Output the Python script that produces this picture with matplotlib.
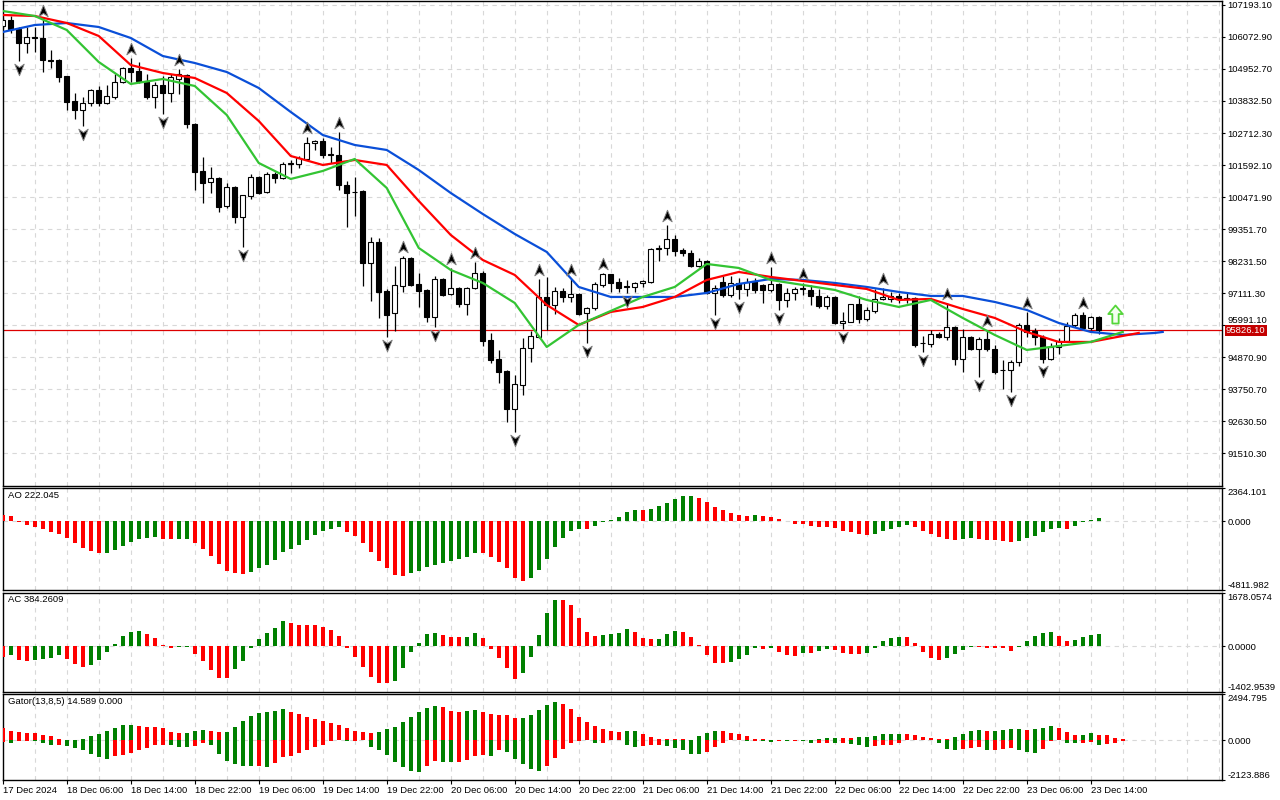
import matplotlib
matplotlib.use("Agg")
import matplotlib.pyplot as plt
from matplotlib.path import Path
from matplotlib.transforms import offset_copy, blended_transform_factory
import numpy as np

plt.rcParams["font.family"] = ["Liberation Sans", "DejaVu Sans"]

# hourly candles, 17 Dec 22:00 .. 23 Dec 15:00
opens = [106458, 106668, 106353, 105863, 106073, 106038, 105268, 105268, 104708, 103833,
         103518, 103763, 104218, 103763, 103973, 104498, 104988, 104883, 104533, 103973,
         104393, 104113, 104603, 104743, 103028, 101383, 100998, 101138, 100158, 100823,
         99773, 100508, 101173, 100648, 101278, 101138, 101628, 101628, 101803, 102363,
         102433, 101978, 101943, 100893, 100648, 100683, 98163, 98898, 97183, 96413,
         97358, 98338, 97428, 97218, 96273, 97603, 97078, 97288, 96728, 97288,
         97813, 95468, 94803, 94383, 93053, 93893, 95188, 95573, 96973, 96693,
         97183, 96973, 97078, 96413, 96588, 97393, 97778, 97498, 97358, 97323,
         97463, 97498, 98653, 98688, 99003, 98618, 98513, 98058, 98233, 97113,
         97498, 97043, 97463, 97253, 97533, 97393, 97218, 97428, 96868, 97113,
         97253, 97218, 97008, 96658, 96973, 96063, 96098, 96728, 96203, 96483,
         96903, 96903, 97008, 96903, 96938, 95363, 95328, 95678, 95573, 95923,
         94803, 95573, 95153, 95503, 95153, 94418, 94418, 94698, 95993, 95783,
         95573, 94803, 95223, 95433, 95993, 96343, 95888, 96273]
highs = [106738, 106808, 106423, 106423, 106423, 106668, 105618, 105303, 104708, 104113,
         103973, 104253, 104358, 104393, 104778, 105023, 105338, 105198, 104778, 104498,
         104708, 104778, 104953, 104778, 103063, 101873, 101523, 101173, 100963, 100858,
         100543, 101278, 101208, 101348, 101348, 101698, 101768, 101908, 102573, 102468,
         102538, 102223, 102748, 101033, 101173, 100718, 99073, 99038, 97253, 98058,
         98408, 98373, 97813, 97253, 97708, 97638, 97988, 97323, 97323, 98198,
         97883, 95713, 95118, 94418, 94243, 95538, 95783, 97603, 97673, 97323,
         97288, 97603, 97113, 96623, 97498, 97813, 97780, 97638, 97568, 97498,
         97568, 98688, 98793, 99493, 99143, 98688, 98618, 98338, 98268, 97393,
         97708, 97708, 97638, 97638, 97638, 97428, 98023, 97463, 97288, 97323,
         97463, 97393, 97253, 97043, 97008, 96448, 96740, 97008, 96623, 97253,
         97288, 97148, 97113, 97113, 96973, 95608, 95818, 95748, 96763, 95958,
         95853, 95608, 95573, 95818, 95293, 94768, 94768, 96063, 96448, 95888,
         95643, 95363, 95538, 96098, 96413, 96448, 96308, 96308]
lows = [106388, 106213, 105233, 105513, 105548, 104848, 104988, 104498, 103518, 103203,
        102958, 103658, 103658, 103728, 103903, 104463, 104498, 104463, 103903, 103588,
        103378, 103798, 104078, 102888, 100718, 100263, 100613, 99948, 100088, 99563,
        98723, 100403, 100578, 100613, 100963, 101103, 101313, 101488, 101768, 102118,
        101838, 101663, 100718, 99423, 99808, 97358, 96833, 96238, 95573, 95783,
        97148, 97358, 96623, 96098, 95923, 97008, 97043, 96623, 96343, 97253,
        95258, 94663, 93963, 92598, 92248, 93543, 94698, 95538, 95818, 96378,
        96798, 96798, 96343, 95363, 96518, 97323, 97148, 97130, 97113, 97148,
        97323, 97463, 98233, 98443, 98408, 98408, 98023, 98023, 97078, 96343,
        96973, 96973, 96903, 97008, 97113, 96763, 97148, 96518, 96623, 96868,
        97043, 96693, 96588, 96553, 96028, 95853, 96080, 96063, 96133, 96413,
        96868, 96798, 96763, 96763, 95223, 95048, 95223, 95538, 95468, 94593,
        94348, 95118, 94173, 95083, 94278, 93753, 93648, 94558, 95573, 95293,
        94663, 94768, 94978, 95398, 95923, 95818, 95818, 95678]
closes = [106668, 106353, 105863, 106073, 106055, 105268, 105250, 104673, 103798, 103518,
          103763, 104218, 103763, 104008, 104498, 104988, 104848, 104533, 103973, 104393,
          104113, 104673, 104778, 103028, 101348, 100963, 101138, 100123, 100823, 99773,
          100543, 101173, 100613, 101278, 101138, 101628, 101663, 101838, 102363, 102433,
          101943, 101943, 100893, 100613, 100630, 98163, 98898, 97148, 96343, 97393,
          98338, 97393, 97183, 96273, 97603, 97043, 97288, 96728, 97288, 97813,
          95433, 94768, 94348, 93053, 93928, 95188, 95608, 96973, 96693, 97183,
          96973, 97078, 96378, 96588, 97428, 97778, 97463, 97288, 97323, 97463,
          97533, 98653, 98688, 99003, 98583, 98513, 98058, 98233, 97113, 97288,
          97043, 97463, 97253, 97498, 97218, 97218, 97428, 96868, 97113, 97253,
          97288, 97008, 96658, 96973, 96063, 96133, 96728, 96203, 96518, 96903,
          96973, 97008, 96903, 96920, 95293, 95350, 95678, 95573, 95923, 94803,
          95573, 95153, 95503, 95153, 94348, 94400, 94698, 95993, 95748, 95573,
          94803, 95223, 95433, 95958, 96343, 95888, 96273, 95826.10]

# Alligator lines, read every 4 bars (already shifted forward)
jaw_bars = list(range(0, 145, 4)) + [145]
jaw = [106248, 106493, 106563, 106423, 106038, 105408, 105163, 104848, 104288, 103448,
       102643, 102293, 102118, 101418, 100613, 99878, 99178, 98548, 97323, 96973,
       96973, 96973, 97113, 97428, 97603, 97568, 97463, 97323, 97148, 97008,
       97008, 96798, 96518, 96063, 95748, 95643, 95713, 95748]
teeth_bars = list(range(0, 141, 4)) + [142]
teeth = [106843, 106808, 106563, 106108, 105093, 104813, 104638, 104113, 103133, 101908,
         101593, 101768, 101593, 100333, 99143, 98268, 97743, 96693, 95993, 96448,
         96623, 96973, 97568, 97848, 97673, 97533, 97393, 97253, 96868, 96903,
         96553, 96238, 95748, 95398, 95398, 95608, 95713]
lips_bars = list(range(0, 141, 4))
lips = [106983, 106808, 106318, 105198, 104428, 104603, 104358, 103343, 101663, 101103,
        101383, 101803, 100788, 98688, 97918, 97463, 96763, 95223, 95993, 96483,
        96973, 97323, 98128, 97988, 97568, 97393, 97218, 96868, 96623, 96868,
        96238, 95643, 95118, 95258, 95398, 95748]

fractal_up = [5, 16, 22, 38, 42, 50, 56, 59, 67, 71, 75, 83, 96, 100, 110, 118, 123, 128, 135]
fractal_down = [2, 10, 20, 30, 48, 54, 64, 73, 78, 89, 92, 97, 105, 115, 122, 126, 130]
signal_bar = 139
signal_price = 96378

ao = [422, 350, -18, -233, -395, -538, -745, -888, -1166, -1516,
      -1866, -2054, -2216, -2198, -2009, -1704, -1471, -1238, -1166, -1094,
      -1238, -1247, -1229, -1220, -1516, -1938, -2422, -2987, -3453, -3615,
      -3687, -3525, -3265, -3032, -2682, -2144, -1938, -1633, -1283, -933,
      -655, -511, -422, -745, -1005, -1516, -2144, -2754, -3265, -3732,
      -3803, -3615, -3453, -3193, -3032, -2915, -2799, -2610, -2494, -2216,
      -2225, -2494, -2843, -3265, -3965, -4153, -3965, -3382, -2637, -1794,
      -1166, -655, -538, -547, -305, -18, 72, 278, 655, 771,
      762, 861, 1076, 1283, 1561, 1794, 1803, 1633, 1354, 1005,
      789, 583, 440, 377, 440, 377, 305, 161, 45, -161,
      -170, -305, -395, -404, -466, -655, -745, -888, -933, -861,
      -655, -511, -377, -278, -377, -655, -861, -1094, -1211, -1283,
      -1211, -1166, -1220, -1283, -1292, -1354, -1471, -1354, -1166, -1005,
      -727, -511, -466, -511, -350, -72, 90, 222.045]
ac = [-331, -276, -432, -469, -414, -386, -349, -276, -386, -542,
      -625, -570, -414, -175, 83, 322, 450, 478, 395, 257,
      41, -41, -28, -9, -230, -469, -726, -974, -983, -698,
      -460, -64, 239, 423, 579, 790, 726, 671, 666, 662,
      597, 515, 322, -46, -331, -643, -956, -1140, -1144, -1075,
      -671, -175, 101, 395, 423, 368, 294, 289, 294, 423,
      257, -74, -349, -671, -1011, -818, -331, 368, 1038, 1452,
      1443, 1296, 882, 450, 322, 368, 395, 423, 542, 450,
      257, 230, 239, 386, 478, 450, 294, 41, -257, -505,
      -510, -478, -386, -257, -46, -74, -37, -165, -257, -294,
      -193, -198, -138, -83, -101, -193, -230, -234, -193, -37,
      165, 257, 294, 289, 101, -165, -349, -414, -349, -230,
      -101, -9, -28, -41, -46, -51, -138, -9, 165, 322,
      414, 450, 322, 165, 198, 294, 340, 384.2609]
gator_up = [632, 489, 430, 396, 362, 287, 236, 76, 17, 34,
            76, 202, 346, 506, 683, 826, 835, 792, 725, 717,
            632, 430, 379, 396, 489, 540, 489, 430, 447, 725,
            1028, 1298, 1475, 1534, 1602, 1661, 1534, 1425, 1265, 1155,
            1045, 936, 809, 666, 506, 451, 396, 455, 615, 725,
            995, 1265, 1534, 1753, 1855, 1804, 1585, 1534, 1585, 1644,
            1534, 1425, 1374, 1366, 1205, 1218, 1374, 1644, 1914, 2074,
            1964, 1694, 1265, 995, 776, 615, 506, 451, 506, 510,
            346, 177, 72, 63, 55, 42, 34, 236, 396, 506,
            502, 396, 346, 236, 51, 46, 17, 25, 17, 34,
            25, 17, 84, 126, 131, 126, 122, 160, 181, 236,
            346, 350, 354, 341, 287, 177, 126, 72, 63, 177,
            346, 506, 556, 506, 510, 556, 615, 620, 556, 615,
            666, 759, 666, 451, 287, 291, 396, 287, 270, 126,
            67, 25, 14.589]
gator_down = [-93, -177, -51, -34, -38, -177, -287, -270, -291, -396,
              -556, -725, -919, -995, -868, -776, -666, -540, -413, -270,
              -236, -253, -362, -371, -325, -177, -236, -725, -1138, -1281,
              -1374, -1383, -1370, -1458, -1222, -919, -830, -683, -506, -346,
              -236, -51, -17, -67, -25, -8, -346, -506, -776, -1205,
              -1425, -1644, -1694, -1374, -1104, -1155, -1205, -1197, -1045, -830,
              -776, -830, -556, -615, -995, -1265, -1534, -1644, -1374, -936,
              -451, -143, -51, -17, -177, -173, -8, -17, -287, -346,
              -341, -287, -282, -291, -396, -556, -725, -729, -615, -346,
              -177, -17, -8, -67, -51, -59, -84, -51, -67, -34,
              -51, -177, -169, -126, -177, -173, -181, -270, -346, -341,
              -287, -282, -177, -17, -8, -4, -8, -126, -451, -506,
              -451, -396, -392, -556, -506, -451, -447, -556, -615, -683,
              -451, -51, -17, -143, -177, -126, -122, -236, -228, -177,
              -34]

price_ticks = [107193.10, 106072.90, 104952.70, 103832.50, 102712.30, 101592.10, 100471.90,
               99351.70, 98231.50, 97111.30, 95991.10, 94870.90, 93750.70, 92630.50, 91510.30]
ao_ticks = [2364.101, 0.0, -4811.982]
ac_ticks = [1678.0574, 0.0, -1402.9539]
gator_ticks = [2494.795, 0.0, -2123.886]
date_labels = ["17 Dec 2024", "18 Dec 06:00", "18 Dec 14:00", "18 Dec 22:00", "19 Dec 06:00",
               "19 Dec 14:00", "19 Dec 22:00", "20 Dec 06:00", "20 Dec 14:00", "20 Dec 22:00",
               "21 Dec 06:00", "21 Dec 14:00", "21 Dec 22:00", "22 Dec 06:00", "22 Dec 14:00",
               "22 Dec 22:00", "23 Dec 06:00", "23 Dec 14:00"]

green = "#008000"
red = "#ff0000"
grid_c = "#d8d8d8"
fs = 6.8

W, H = 1280, 800


def panel(top, bottom):
    left, right = 2.5, 1222
    return [left / W, 1 - bottom / H, (right - left) / W, (bottom - top) / H]


def style(a):
    for s in a.spines.values():
        s.set_color("black")
        s.set_linewidth(1)
    a.yaxis.tick_right()
    a.tick_params(axis="y", direction="out", length=2.5, width=0.8, pad=1.5, labelsize=fs)
    a.tick_params(axis="x", bottom=False, labelbottom=False)
    for g in range(4, 153, 4):
        a.axvline(g, color=grid_c, lw=0.8, ls=(0, (4, 4)), zorder=0)


def rise_colors(vals):
    return [red] + [green if vals[i] > vals[i - 1] else red for i in range(1, len(vals))]


def grow_colors(vals):
    return [red] + [green if abs(vals[i]) > abs(vals[i - 1]) else red for i in range(1, len(vals))]


fig = plt.figure(figsize=(12.8, 8), dpi=100)
fig.patch.set_facecolor("white")
ax = fig.add_axes(panel(0.5, 485.5))
ax_ao = fig.add_axes(panel(487.5, 590), sharex=ax)
ax_ac = fig.add_axes(panel(592.5, 691.5), sharex=ax)
ax_g = fig.add_axes(panel(694, 779.5), sharex=ax)

# ---- price panel
style(ax)
x = np.arange(len(opens))
o, h, l, c = map(np.array, (opens, highs, lows, closes))
ax.vlines(x, l, h, color="black", lw=0.9, zorder=3)
body_fc = np.where(c >= o, "white", "black")
ax.bar(x, np.abs(c - o), bottom=np.minimum(o, c), width=0.6, color=body_fc,
       edgecolor="black", linewidth=0.8, zorder=4)

ax.plot(jaw_bars, jaw, color="#0a4fd8", lw=1.6, zorder=5)
ax.plot(teeth_bars, teeth, color="#ff0000", lw=1.6, zorder=5)
ax.plot(lips_bars, lips, color="#33c433", lw=1.6, zorder=5)

up_path = Path([(0, 1), (0.75, -0.85), (0, -0.3), (-0.75, -0.85), (0, 1)],
               [Path.MOVETO, Path.LINETO, Path.LINETO, Path.LINETO, Path.CLOSEPOLY])
down_path = Path([(0, -1), (0.75, 0.85), (0, 0.3), (-0.75, 0.85), (0, -1)],
                 [Path.MOVETO, Path.LINETO, Path.LINETO, Path.LINETO, Path.CLOSEPOLY])
up_tr = offset_copy(ax.transData, fig=fig, x=0, y=9, units="dots")
dn_tr = offset_copy(ax.transData, fig=fig, x=0, y=-8, units="dots")
ax.plot(fractal_up, h[fractal_up], ls="none", marker=up_path, ms=9, mfc="black",
        mec="#7f7f7f", mew=0.7, transform=up_tr, zorder=6)
ax.plot(fractal_down, l[fractal_down], ls="none", marker=down_path, ms=9, mfc="black",
        mec="#7f7f7f", mew=0.7, transform=dn_tr, zorder=6)

arrow_path = Path([(-0.35, -1), (0.35, -1), (0.35, 0.05), (0.8, 0.05), (0, 1),
                   (-0.8, 0.05), (-0.35, 0.05), (-0.35, -1)],
                  [Path.MOVETO] + [Path.LINETO] * 6 + [Path.CLOSEPOLY])
ax.plot([signal_bar], [signal_price], ls="none", marker=arrow_path, ms=13, mfc="#f4fff0",
        mec="#55d63a", mew=1.3, zorder=6)

last_price = closes[-1]
ax.axhline(last_price, color="#dd0000", lw=0.9, zorder=2)

ax.set_ylim(90372.7, 107350.6)
ax.set_yticks(price_ticks)
ax.set_yticklabels([f"{v:.2f}" for v in price_ticks])
ax.grid(axis="y", color=grid_c, lw=0.8, ls=(0, (4, 4)))
ax.set_axisbelow(True)
# the tick label under the price box sits just above it
ax.get_yticklabels()[price_ticks.index(95991.10)].set_va("bottom")

lbl_tr = offset_copy(blended_transform_factory(ax.transAxes, ax.transData), fig=fig,
                     x=4, y=-1, units="dots")
ax.text(1.0, last_price, f"{last_price:.2f}", transform=lbl_tr, ha="left", va="center",
        fontsize=fs, color="white", zorder=20, clip_on=False,
        bbox=dict(boxstyle="square,pad=0.1", fc="#c40000", ec="none"))


# ---- indicator panels
def indicator(a, series, colors, ticks, fmt, title, width=0.5):
    style(a)
    a.axhline(0, color=grid_c, lw=0.8, ls=(0, (4, 4)), zorder=0)
    for vals, cols in zip(series, colors):
        a.bar(np.arange(len(vals)), vals, width=width, color=cols, linewidth=0, zorder=3)
    a.set_ylim(ticks[-1], ticks[0])
    a.set_yticks(ticks)
    a.set_yticklabels([fmt.format(v) for v in ticks])
    labs = a.get_yticklabels()
    labs[0].set_va("top")
    labs[-1].set_va("bottom")
    a.annotate(title, xy=(0, 1), xycoords="axes fraction", xytext=(5, -3),
               textcoords="offset pixels", ha="left", va="top", fontsize=fs)


indicator(ax_ao, [ao], [rise_colors(ao)], ao_ticks, "{:.3f}", f"AO {ao[-1]:.3f}")
indicator(ax_ac, [ac], [rise_colors(ac)], ac_ticks, "{:.4f}", f"AC {ac[-1]:.4f}")
indicator(ax_g, [gator_up, gator_down], [grow_colors(gator_up), grow_colors(gator_down)],
          gator_ticks, "{:.3f}", f"Gator(13,8,5) {gator_up[-1]:.3f} 0.000")

ax_g.tick_params(axis="x", bottom=True, labelbottom=True, direction="out", length=3,
                 width=0.8, pad=1.5, labelsize=fs)
ax_g.set_xticks(list(range(0, 8 * len(date_labels), 8)))
ax_g.set_xticklabels(date_labels, ha="left")

ax.set_xlim(-0.03, 152.41)

fig.savefig("out.png", dpi=100, facecolor="white")
